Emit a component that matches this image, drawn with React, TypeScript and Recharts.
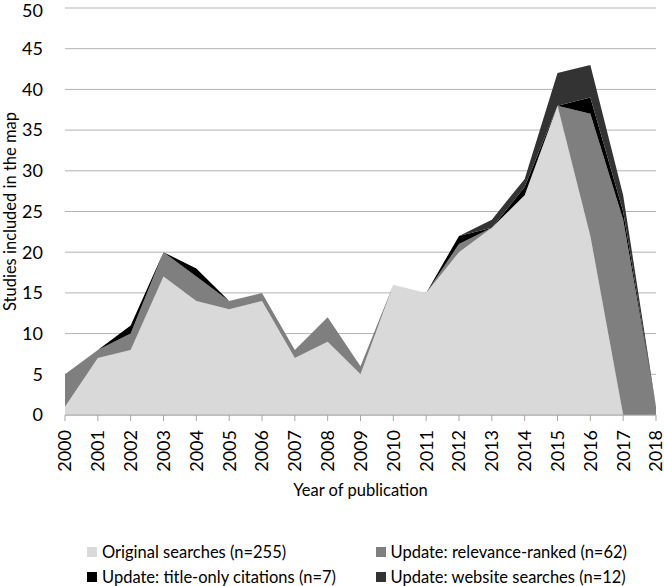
import { AreaChart, Area, XAxis, YAxis, CartesianGrid, Legend, Label } from 'recharts'

const years = ['2000', '2001', '2002', '2003', '2004', '2005', '2006', '2007', '2008', '2009', '2010', '2011', '2012', '2013', '2014', '2015', '2016', '2017', '2018']
const original = [1, 7, 8, 17, 14, 13, 14, 7, 9, 5, 16, 15, 20, 23, 27, 38, 22, 0, 0]
const relevance = [4, 1, 2, 3, 3, 1, 1, 1, 3, 1, 0, 0, 1, 0, 0, 0, 15, 24, 1]
const titleOnly = [0, 0, 1, 0, 1, 0, 0, 0, 0, 0, 0, 0, 1, 0, 1, 0, 2, 1, 0]
const website = [0, 0, 0, 0, 0, 0, 0, 0, 0, 0, 0, 0, 0, 1, 1, 4, 4, 2, 0]
const yTicks = [0, 5, 10, 15, 20, 25, 30, 35, 40, 45, 50]

const series = [
  { key: 'original', name: 'Original searches (n=255)', color: '#d9d9d9' },
  { key: 'relevance', name: 'Update: relevance-ranked (n=62)', color: '#7f7f7f' },
  { key: 'titleOnly', name: 'Update: title-only citations (n=7)', color: '#000000' },
  { key: 'website', name: 'Update: website searches (n=12)', color: '#333333' },
]
// legend reads row by row: original | relevance, then title-only | website
const legendRows = [
  [0, 1],
  [2, 3],
]

const data = years.map((year, i) => ({
  year,
  original: original[i],
  relevance: relevance[i],
  titleOnly: titleOnly[i],
  website: website[i],
}))

const font = 'Lato, "Open Sans", sans-serif'

function YearTick({ x, y, payload }: any) {
  return (
    <g transform={`translate(${x},${y})`}>
      <text transform="rotate(-90)" textAnchor="end" dy="0.36em" fill="#000" fontSize={18} fontFamily={font}>
        {payload.value}
      </text>
    </g>
  )
}

function ChartLegend() {
  return (
    <div style={{ height: 71, paddingTop: 24, boxSizing: 'border-box', paddingLeft: 87, fontFamily: font, fontSize: 16.5, color: '#000' }}>
      {legendRows.map((row, r) => (
        <div key={r} style={{ display: 'flex', height: 25, alignItems: 'center' }}>
          {row.map((idx) => (
            <div key={idx} style={{ width: 298, display: 'flex', alignItems: 'center', whiteSpace: 'nowrap' }}>
              <span style={{ width: 10, height: 10, background: series[idx].color, marginRight: 5, display: 'inline-block', flexShrink: 0 }} />
              <span>{series[idx].name}</span>
            </div>
          ))}
        </div>
      ))}
    </div>
  )
}

export default function App() {
  return (
    <div>
      <style>{'body{margin:0}'}</style>
      <AreaChart width={664} height={586} data={data} margin={{ top: 8, right: 8, bottom: 0, left: 0 }}>
        <CartesianGrid vertical={false} stroke="#b3b3b3" />
        <XAxis
          dataKey="year"
          height={100}
          tick={<YearTick />}
          tickSize={6}
          tickMargin={9}
          stroke="#a6a6a6"
          interval={0}
        >
          <Label value="Year of publication" position="insideBottom" offset={19} fill="#000" fontSize={16.5} fontFamily={font} />
        </XAxis>
        <YAxis
          width={65}
          domain={[0, 50]}
          ticks={yTicks}
          axisLine={false}
          tickLine={false}
          tickMargin={16}
          tick={{ fill: '#000', fontSize: 18, fontFamily: font }}
        >
          <Label value="Studies included in the map" angle={-90} position="center" dx={-22} fill="#000" fontSize={16.5} fontFamily={font} />
        </YAxis>
        {series.map((s) => (
          <Area
            key={s.key}
            type="linear"
            dataKey={s.key}
            name={s.name}
            stackId="a"
            stroke="none"
            fill={s.color}
            fillOpacity={1}
            isAnimationActive={false}
          />
        ))}
        <Legend verticalAlign="bottom" content={<ChartLegend />} wrapperStyle={{ left: 0, width: 664 }} />
      </AreaChart>
    </div>
  )
}
